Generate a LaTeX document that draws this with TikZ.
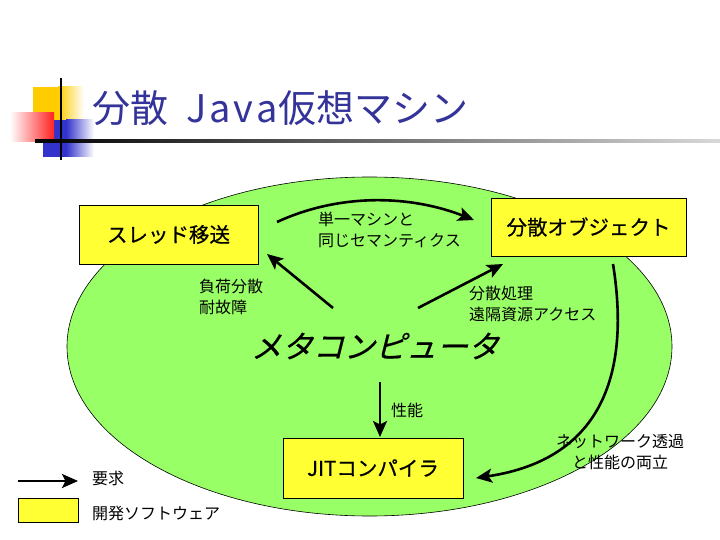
\documentclass[tikz,border=0pt]{standalone}
\usepackage{fontspec}
\setmainfont{Noto Sans CJK JP}
\newfontfamily\slantfont[FakeSlant=0.25,FakeBold=0.6]{Noto Sans CJK JP}
\newfontfamily\boxfont[FakeBold=0.6]{Noto Sans CJK JP}
\usetikzlibrary{arrows.meta}
\definecolor{egreen}{HTML}{99FF66}
\definecolor{byellow}{HTML}{FFFF33}
\definecolor{tblue}{HTML}{333399}
\definecolor{lyellow}{HTML}{FFCC00}
\definecolor{lblue}{HTML}{3333CC}
\definecolor{lred}{HTML}{FF2222}
\begin{document}
\begin{tikzpicture}[x=1pt,y=-1pt,
  box/.style={draw=black, fill=byellow, line width=0.8pt, inner sep=0pt, font=\boxfont\fontsize{20.5}{24}\selectfont},
  lab/.style={font=\fontsize{16}{21.5}\selectfont, align=left, inner sep=0pt, anchor=west},
  req/.style={line width=2.6pt, -{Stealth[length=16pt,width=14pt,inset=3.5pt]}}]
\useasboundingbox (0,0) rectangle (720,540);
\fill[white] (0,0) rectangle (720,540);
% logo
\fill[lyellow] (33,87) rectangle (58,120);
\shade[left color=lyellow, right color=white] (58,87) rectangle (84,120);
\fill[lblue] (43,120) rectangle (66,157);
\shade[left color=lblue, right color=white] (66,120) rectangle (94,157);
\shade[left color=white, right color=lred] (10,113) rectangle (54,142);
\shade[left color=black, right color=black!15] (35,139.5) rectangle (720,142.5);
\draw[line width=2.5pt] (61,78) -- (61,160);
% title
\node[anchor=west, inner sep=0pt, text=tblue, font=\fontsize{38}{42}\selectfont] (title) at (92,108) {分散\hspace{18pt}J\kern3pt a\kern3pt v\kern3pt a仮想マシン};
% ellipse
\draw[fill=egreen, line width=0.6pt] (369.5,346.5) ellipse [x radius=302.5, y radius=169.5];
% boxes
\node[box, minimum width=179pt, minimum height=59pt] (thread) at (168.5,234.5) {スレッド移送};
\node[box, minimum width=195pt, minimum height=58pt] (dobj) at (588.5,227) {分散オブジェクト};
\node[box, minimum width=180pt, minimum height=60pt] (jit) at (373,468) {JITコンパイラ};
% meta
\node[inner sep=0pt, font=\slantfont\fontsize{31}{36}\selectfont] (meta) at (375,346) {メタコンピュータ};
% coordinates
\coordinate (m1) at (333,308);
\coordinate (m2) at (418,308);
\coordinate (m3) at (380,382);
\coordinate (t1) at (267,254);
\coordinate (d1) at (503,264);
\coordinate (j1) at (380,437);
\coordinate (ta) at (277,222);
\coordinate (da) at (474,220);
\coordinate (db) at (613,264);
\coordinate (jb) at (476,478);
% arrows
\draw[req] (m1) -- (t1);
\draw[req] (m2) -- (d1);
\draw[req] (m3) -- (j1);
\draw[req] (ta) .. controls (340,193) and (410,195) .. (da);
\draw[req] (db) .. controls (634,395) and (585,462) .. (jb);
% labels
\node[lab] (l1) at (318,230) {単一マシンと\\同じセマンティクス};
\node[lab] (l2) at (199,297) {負荷分散\\耐故障};
\node[lab] (l3) at (469,304) {分散処理\\遠隔資源アクセス};
\node[lab] (l4) at (391,410) {性能};
\node[lab, align=center, anchor=center] (l5) at (620,452) {ネットワーク透過\\と性能の両立};
% legend
\coordinate (la) at (18,481);
\coordinate (lb) at (78,481);
\draw[req] (la) -- (lb);
\node[lab] (lreq) at (92,478) {要求};
\node[draw=black, fill=byellow, line width=0.8pt, minimum width=60pt, minimum height=24pt, inner sep=0pt] (lbox) at (48,510) {};
\node[lab] (ldev) at (92,513) {開発ソフトウェア};
\end{tikzpicture}
\end{document}
